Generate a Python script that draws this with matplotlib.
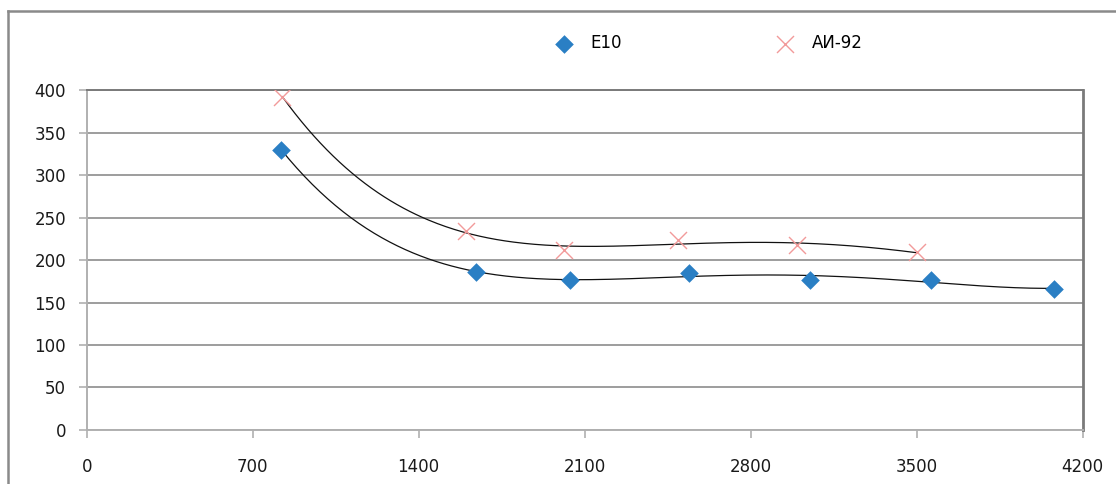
import numpy as np
import matplotlib
matplotlib.use("Agg")
import matplotlib.pyplot as plt
from matplotlib.lines import Line2D

# Measured points for the two fuels
e10_x = [820, 1640, 2040, 2540, 3050, 3560, 4080]
e10_y = [330, 186, 176, 185, 176, 177, 166]
ai92_x = [825, 1600, 2015, 2495, 2995, 3500]
ai92_y = [392, 234, 212, 223, 218, 209]

x_ticks = [0, 700, 1400, 2100, 2800, 3500, 4200]
y_ticks = [0, 50, 100, 150, 200, 250, 300, 350, 400]
labels = ["E10", "АИ-92"]

plt.rcParams["font.family"] = ["DejaVu Sans"]

fig = plt.figure(figsize=(11.16, 4.84), dpi=100)
ax = fig.add_axes([0.0777, 0.1116, 0.9700 - 0.0777, 0.8140 - 0.1116])

ax.set_xlim(0, 4200)
ax.set_ylim(0, 400)
ax.set_xticks(x_ticks)
ax.set_yticks(y_ticks)
ax.yaxis.grid(True, color="#8c8c8c", linewidth=1.2)
ax.set_axisbelow(True)

for side in ("left", "bottom"):
    ax.spines[side].set_color("#b0b0b0")
    ax.spines[side].set_linewidth(1.4)
ax.spines["top"].set_color("#7a7a7a")
ax.spines["top"].set_linewidth(1.4)
ax.spines["right"].set_color("#7a7a7a")
ax.spines["right"].set_linewidth(2.0)

ax.tick_params(axis="both", direction="out", length=6, width=1.2,
               color="#b0b0b0", labelsize=12, labelcolor="#1a1a1a")
ax.tick_params(axis="y", pad=9)
ax.tick_params(axis="x", pad=14)


def trend(xs, ys, deg=4):
    coeffs = np.polyfit(xs, ys, deg)
    xx = np.linspace(min(xs), max(xs), 300)
    return xx, np.polyval(coeffs, xx)


for xs, ys in ((e10_x, e10_y), (ai92_x, ai92_y)):
    tx, ty = trend(xs, ys)
    ax.plot(tx, ty, color="#111111", linewidth=0.9, zorder=2)

ax.scatter(e10_x, e10_y, marker="D", s=90, color="#2a7fc4", zorder=3,
           label=labels[0], linewidths=0)
ax.scatter(ai92_x, ai92_y, marker="x", s=150, color="#f29a9a", zorder=3,
           label=labels[1], linewidths=1.0)

leg = fig.legend(loc="center left", bbox_to_anchor=(0.490, 0.911), ncol=2,
                 frameon=False, fontsize=12, columnspacing=8.8,
                 handletextpad=0.6, scatterpoints=1,
                 borderaxespad=0, borderpad=0)

# outer chart frame
fig.add_artist(Line2D([0.0072, 0.0072], [0.0, 0.977], color="#8a8a8a",
                      linewidth=1.8, transform=fig.transFigure))
fig.add_artist(Line2D([0.0072, 1.0], [0.977, 0.977], color="#8a8a8a",
                      linewidth=1.8, transform=fig.transFigure))

fig.savefig("out.png", dpi=100)
